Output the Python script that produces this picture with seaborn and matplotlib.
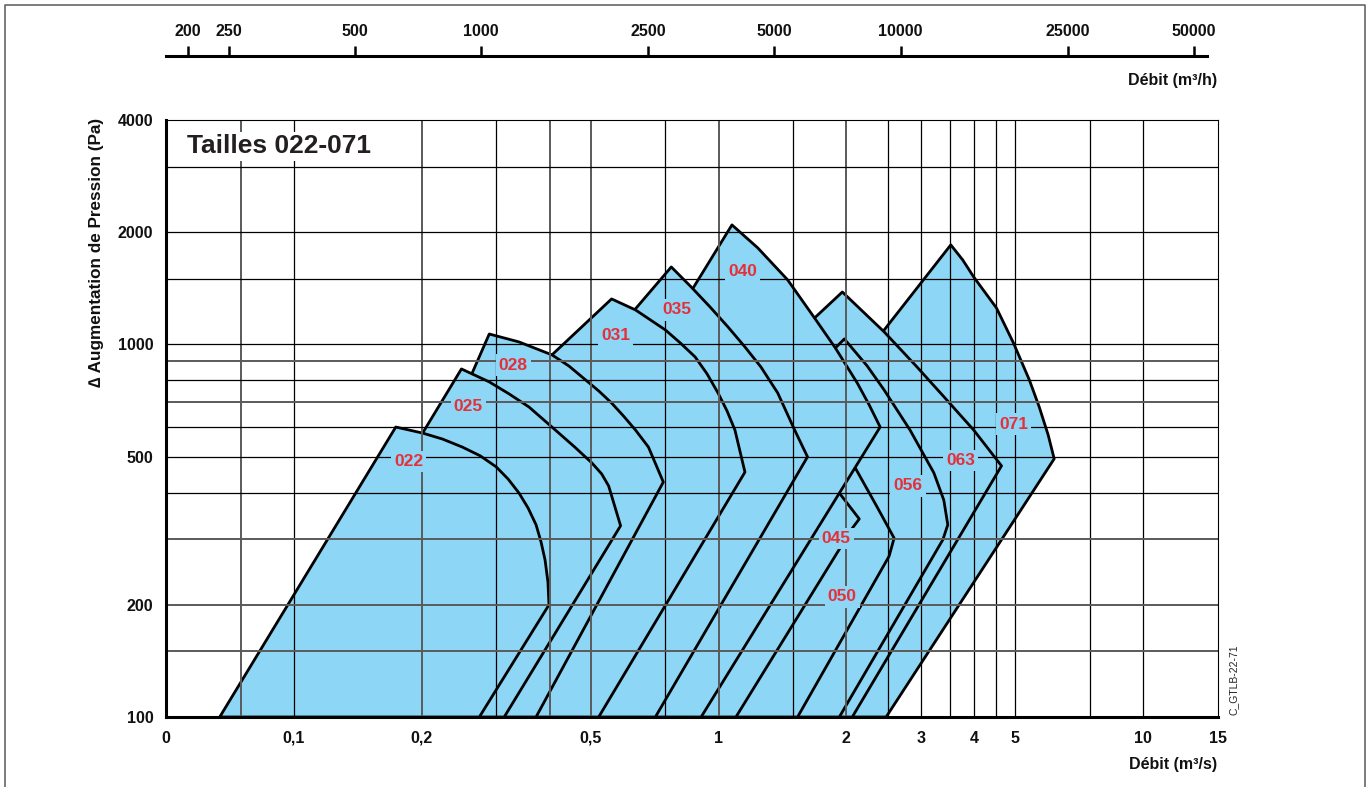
import matplotlib
matplotlib.use("Agg")
import matplotlib.pyplot as plt
from matplotlib.lines import Line2D
from matplotlib.ticker import NullLocator
import seaborn as sns

# outline of each fan size, flow in m3/s and pressure in Pa
# (bottom-left, left edge, peak, right curve, right corner, bottom-right)
q_022 = [0.0669, 0.1738, 0.2010, 0.2239, 0.2494, 0.2749, 0.2996, 0.3196, 0.339, 0.356,
         0.3718, 0.382, 0.3904, 0.3966, 0.3988, 0.2734]
p_022 = [100, 600, 578, 557, 530, 502, 469, 435, 399, 364, 328, 295, 264, 230, 200, 100]
q_025 = [0.0795, 0.2010, 0.2481, 0.2885, 0.3214, 0.3579, 0.4207, 0.4587, 0.5029, 0.5307,
         0.5511, 0.588, 0.3129]
p_025 = [100, 578, 859, 793, 736, 679, 578, 530, 481, 449, 417, 326, 100]
q_028 = [0.0858, 0.2618, 0.2885, 0.339, 0.4053, 0.4442, 0.4868, 0.5222, 0.56, 0.5975,
         0.6375, 0.6839, 0.7413, 0.3718]
p_028 = [100, 828, 1066, 1015, 937, 875, 802, 750, 696, 642, 589, 530, 427, 100]
q_031 = [0.1244, 0.4053, 0.56, 0.6375, 0.7497, 0.8126, 0.881, 0.9399, 0.997, 1.047,
         1.093, 1.154, 0.5222]
p_031 = [100, 937, 1324, 1237, 1093, 1009, 925, 833, 741, 663, 589, 454, 100]
q_035 = [0.1674, 0.6341, 0.774, 0.862, 0.955, 1.053, 1.154, 1.258, 1.378, 1.511, 1.620, 0.710]
p_035 = [100, 1237, 1613, 1426, 1260, 1113, 984, 870, 741, 589, 499, 100]
q_040 = [0.2145, 0.8716, 1.0755, 1.237, 1.455, 1.683, 1.884, 2.121, 2.263, 2.402, 0.910]
p_040 = [100, 1417, 2092, 1815, 1489, 1177, 978, 788, 688, 600, 100]
q_045 = [0.695, 1.665, 1.925, 2.145, 2.065, 1.099]
p_045 = [100, 521, 399, 340, 321, 100]
q_050 = [0.684, 1.805, 2.099, 2.363, 2.591, 2.521, 1.535]
p_050 = [100, 627, 466, 366, 302, 270, 100]
q_056 = [0.5631, 1.884, 1.978, 2.239, 2.455, 2.824, 3.214, 3.392, 3.466, 3.374, 1.925]
p_056 = [100, 978, 1034, 875, 754, 589, 452, 382, 328, 299, 100]
q_063 = [0.4563, 1.683, 1.957, 2.455, 2.932, 3.448, 3.988, 4.638, 2.065]
p_063 = [100, 1177, 1382, 1080, 870, 709, 589, 472, 100]
q_071 = [0.6912, 2.455, 3.523, 3.758, 3.988, 4.513, 4.948, 5.395, 5.691, 5.974, 6.171, 2.481]
p_071 = [100, 1093, 1849, 1685, 1517, 1252, 1009, 802, 679, 571, 493, 100]

sizes = ["022", "025", "028", "031", "035", "040", "045", "050", "056", "063", "071"]
outlines = {
    "022": (q_022, p_022), "025": (q_025, p_025), "028": (q_028, p_028),
    "031": (q_031, p_031), "035": (q_035, p_035), "040": (q_040, p_040),
    "045": (q_045, p_045), "050": (q_050, p_050), "056": (q_056, p_056),
    "063": (q_063, p_063), "071": (q_071, p_071),
}

# where the size labels sit
label_q = [0.1865, 0.2576, 0.3285, 0.5723, 0.7994, 1.141, 1.894, 1.957, 2.793, 3.718, 4.948]
label_p = [484, 683, 880, 1053, 1237, 1564, 302, 210, 417, 487, 611]

xticks_q = [0.05, 0.1, 0.2, 0.5, 1, 2, 3, 4, 5, 10, 15]
xtick_labels = ["0", "0,1", "0,2", "0,5", "1", "2", "3", "4", "5", "10", "15"]
yticks_p = [100, 200, 500, 1000, 2000, 4000]
grid_q = [0.1, 0.3, 0.75, 1.5, 2.5, 3, 3.5, 4, 4.5, 5, 7.5, 10]
grid_q_dark = [0.075, 0.2, 0.4, 0.5, 1, 2]
grid_p = [400, 500, 600, 800, 1000, 1500, 2000, 3000]
grid_p_dark = [150, 200, 300, 700, 900]
top_ticks = [200, 250, 500, 1000, 2500, 5000, 10000, 25000, 50000]

sns.set_theme(style="white")
plt.rcParams["font.family"] = ["Liberation Sans", "DejaVu Sans"]

FILL = "#8DD6F5"
RED = "#E5303A"
W, H = 1366, 787

fig = plt.figure(figsize=(13.66, 7.87), dpi=100)
ax = fig.add_axes([166 / W, 1 - 717 / H, 1052 / W, 597 / H])
ax.set_xscale("log")
ax.set_yscale("log")

# biggest size first, so each smaller one hides the hidden edges behind it
z = 1
for name in reversed(sizes):
    q, p = outlines[name]
    ax.fill(q, p, color=FILL, lw=0, zorder=z)
    sns.lineplot(x=q + q[:1], y=p + p[:1], sort=False, estimator=None,
                 color="black", lw=2, zorder=z + 0.5, ax=ax)
    z += 1

for v in grid_q:
    ax.axvline(v, color="black", lw=0.9, zorder=30)
for v in grid_q_dark:
    ax.axvline(v, color="#5a5a5a", lw=1.4, zorder=30)
for v in grid_p:
    ax.axhline(v, color="black", lw=0.9, zorder=30)
for v in grid_p_dark:
    ax.axhline(v, color="#5a5a5a", lw=1.4, zorder=30)

for name, lq, lp in zip(sizes, label_q, label_p):
    ax.text(lq, lp, name, ha="center", va="center", fontsize=12.5, fontweight="bold",
            color=RED, zorder=40,
            bbox=dict(boxstyle="square,pad=0.18", fc=FILL, ec="none"))

ax.text(0.02, 0.956, "Tailles 022-071", transform=ax.transAxes, ha="left", va="center",
        fontsize=19, fontweight="bold", color="#231f20", zorder=40,
        bbox=dict(boxstyle="square,pad=0.1", fc="white", ec="none"))

ax.set_xlim(0.05, 15)
ax.set_ylim(100, 4000)
ax.set_xticks(xticks_q)
ax.set_xticklabels(xtick_labels)
ax.set_yticks(yticks_p)
ax.set_yticklabels([str(v) for v in yticks_p])
ax.xaxis.set_minor_locator(NullLocator())
ax.yaxis.set_minor_locator(NullLocator())
ax.tick_params(axis="both", length=0, labelsize=11.5, labelcolor="#111111")
ax.tick_params(axis="x", pad=10)
ax.tick_params(axis="y", pad=9)
for lab in ax.get_xticklabels() + ax.get_yticklabels():
    lab.set_fontweight("bold")
ax.set_xlabel("")
ax.set_ylabel("")

for s in ["left", "bottom"]:
    ax.spines[s].set_linewidth(2.2)
for s in ["top", "right"]:
    ax.spines[s].set_linewidth(0.8)
for s in ax.spines.values():
    s.set_color("black")
    s.set_zorder(35)

# m3/h scale on top
axt = fig.add_axes([166 / W, 1 - 56 / H, 1041 / W, 0.0001])
axt.set_xscale("log")
axt.set_xlim(177.3, 53700)
axt.patch.set_alpha(0)
for s in ["left", "right", "bottom"]:
    axt.spines[s].set_visible(False)
axt.spines["top"].set_linewidth(2.2)
axt.spines["top"].set_color("black")
axt.xaxis.set_ticks_position("top")
axt.set_xticks(top_ticks)
axt.set_xticklabels([str(t) for t in top_ticks])
axt.xaxis.set_minor_locator(NullLocator())
axt.set_yticks([])
axt.tick_params(axis="x", direction="out", length=7.5, width=1.8, pad=5,
                labelsize=11.5, labelcolor="#111111", color="black")
for lab in axt.get_xticklabels():
    lab.set_fontweight("bold")

fig.text(1217 / W, 1 - 81 / H, "Débit (m³/h)", ha="right", va="center",
         fontsize=11.5, fontweight="bold", color="#111111")
fig.text(1217 / W, 1 - 765 / H, "Débit (m³/s)", ha="right", va="center",
         fontsize=11.5, fontweight="bold", color="#111111")
fig.text(97 / W, 1 - 252 / H, "∆ Augmentation de Pression (Pa)", rotation=90,
         ha="center", va="center", fontsize=12.3, fontweight="bold", color="#111111")
fig.text(1234 / W, 1 - 680 / H, "C_GTLB-22-71", rotation=90, ha="center", va="center",
         fontsize=7.5, color="#222222")

fig.add_artist(Line2D([5 / W, 5 / W, 1365 / W, 1365 / W], [0, 1 - 5 / H, 1 - 5 / H, 0],
                      transform=fig.transFigure, color="#666666", lw=1.2))

fig.savefig("out.png", dpi=100)
